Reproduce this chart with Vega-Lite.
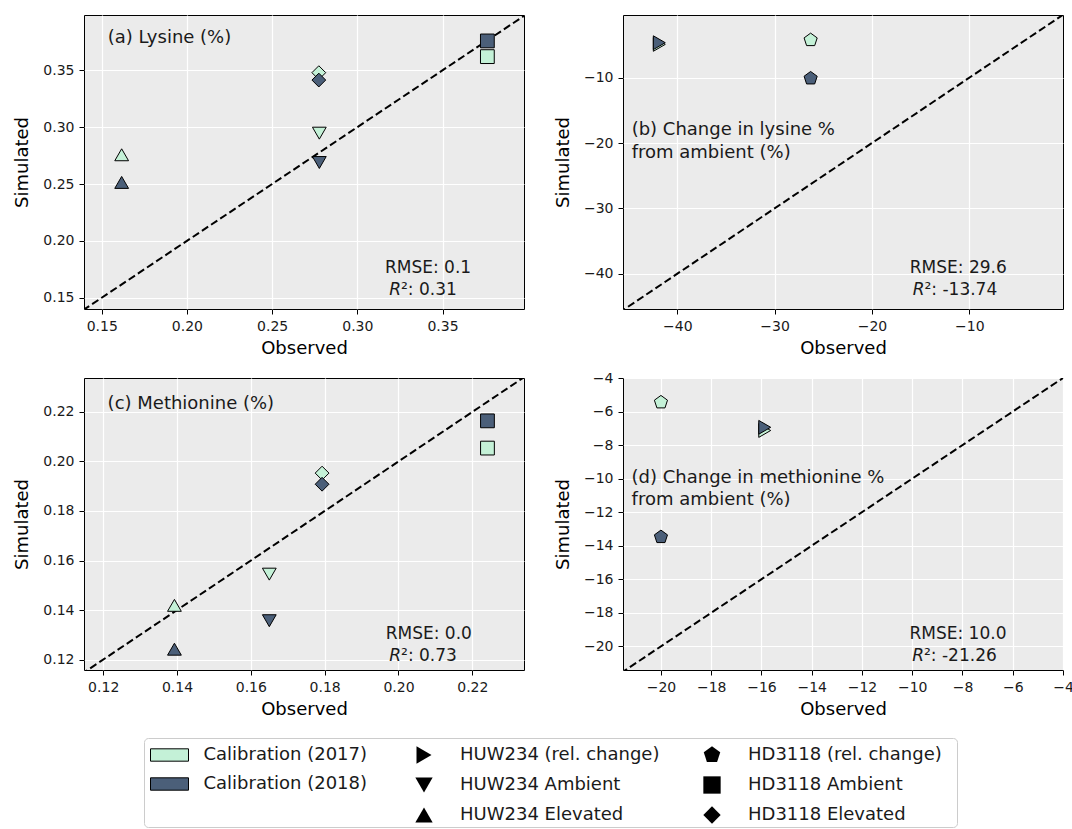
{
  "$schema": "https://vega.github.io/schema/vega-lite/v6.json",
  "padding": {"left": 13, "top": 14, "right": 0, "bottom": 0},
  "autosize": {"type": "pad"},
  "background": "white",
  "datasets": {
    "pts": [
      {"panel": "a", "year": "Calibration (2017)", "treat": "HUW234 Elevated", "obs": 0.1617, "sim": 0.2757},
      {"panel": "a", "year": "Calibration (2017)", "treat": "HUW234 Ambient", "obs": 0.2777, "sim": 0.2947},
      {"panel": "a", "year": "Calibration (2017)", "treat": "HD3118 Elevated", "obs": 0.2774, "sim": 0.3479},
      {"panel": "a", "year": "Calibration (2017)", "treat": "HD3118 Ambient", "obs": 0.3763, "sim": 0.3620},
      {"panel": "a", "year": "Calibration (2018)", "treat": "HUW234 Elevated", "obs": 0.1617, "sim": 0.2514},
      {"panel": "a", "year": "Calibration (2018)", "treat": "HUW234 Ambient", "obs": 0.2777, "sim": 0.2689},
      {"panel": "a", "year": "Calibration (2018)", "treat": "HD3118 Elevated", "obs": 0.2774, "sim": 0.3414},
      {"panel": "a", "year": "Calibration (2018)", "treat": "HD3118 Ambient", "obs": 0.3763, "sim": 0.3758},
      {"panel": "b", "year": "Calibration (2017)", "treat": "HUW234 (rel. change)", "obs": -41.85, "sim": -4.9},
      {"panel": "b", "year": "Calibration (2017)", "treat": "HD3118 (rel. change)", "obs": -26.3, "sim": -4.23},
      {"panel": "b", "year": "Calibration (2018)", "treat": "HUW234 (rel. change)", "obs": -41.85, "sim": -4.64},
      {"panel": "b", "year": "Calibration (2018)", "treat": "HD3118 (rel. change)", "obs": -26.3, "sim": -10.1},
      {"panel": "c", "year": "Calibration (2017)", "treat": "HUW234 Elevated", "obs": 0.1393, "sim": 0.1419},
      {"panel": "c", "year": "Calibration (2017)", "treat": "HUW234 Ambient", "obs": 0.1650, "sim": 0.1545},
      {"panel": "c", "year": "Calibration (2017)", "treat": "HD3118 Elevated", "obs": 0.1793, "sim": 0.1953},
      {"panel": "c", "year": "Calibration (2017)", "treat": "HD3118 Ambient", "obs": 0.2241, "sim": 0.2054},
      {"panel": "c", "year": "Calibration (2018)", "treat": "HUW234 Elevated", "obs": 0.1393, "sim": 0.1242},
      {"panel": "c", "year": "Calibration (2018)", "treat": "HUW234 Ambient", "obs": 0.1650, "sim": 0.1357},
      {"panel": "c", "year": "Calibration (2018)", "treat": "HD3118 Elevated", "obs": 0.1793, "sim": 0.1908},
      {"panel": "c", "year": "Calibration (2018)", "treat": "HD3118 Ambient", "obs": 0.2241, "sim": 0.2164},
      {"panel": "d", "year": "Calibration (2017)", "treat": "HUW234 (rel. change)", "obs": -15.87, "sim": -7.13},
      {"panel": "d", "year": "Calibration (2017)", "treat": "HD3118 (rel. change)", "obs": -20.0, "sim": -5.45},
      {"panel": "d", "year": "Calibration (2018)", "treat": "HUW234 (rel. change)", "obs": -15.87, "sim": -6.94},
      {"panel": "d", "year": "Calibration (2018)", "treat": "HD3118 (rel. change)", "obs": -20.0, "sim": -13.48}
    ]
  },
  "vconcat": [
    {
      "spacing": 12,
      "vconcat": [
        {
          "spacing": 99,
          "bounds": "flush",
          "hconcat": [
            {
              "width": 440, "height": 294,
              "layer": [
                {"data": {"values": [{}]}, "mark": {"type": "rule", "strokeDash": [7.5, 3.5], "strokeWidth": 2, "color": "black", "clip": true},
                 "encoding": {"x": {"datum": 0.139, "type": "quantitative"}, "y": {"datum": 0.139, "type": "quantitative"}, "x2": {"datum": 0.399}, "y2": {"datum": 0.399}}},
                {"data": {"name": "pts"}, "transform": [{"filter": "datum.panel === 'a'"}],
                 "mark": {"type": "point", "filled": true, "opacity": 1, "stroke": "black", "strokeWidth": 1, "size": 190},
                 "encoding": {
                   "x": {"field": "obs", "type": "quantitative", "scale": {"domain": [0.1396, 0.3978], "nice": false, "zero": false}, "axis": {"values": [0.15, 0.2, 0.25, 0.3, 0.35], "tickCount": 20, "format": ".2f", "title": "Observed"}},
                   "y": {"field": "sim", "type": "quantitative", "scale": {"domain": [0.1401, 0.3986], "nice": false, "zero": false}, "axis": {"values": [0.15, 0.2, 0.25, 0.3, 0.35], "tickCount": 20, "format": ".2f", "title": "Simulated"}},
                   "color": {"field": "year", "type": "nominal", "scale": {"domain": ["Calibration (2017)", "Calibration (2018)"], "range": ["#c4f1d7", "#4b5f79"]},
                     "legend": {"title": null, "orient": "none", "legendX": 75.5, "legendY": 730, "symbolType": "M-2,-0.65H2V0.65H-2Z", "symbolSize": 361, "symbolStrokeColor": "black", "symbolStrokeWidth": 1, "symbolOpacity": 1, "labelOffset": 24, "rowPadding": 10, "labelLimit": 400}},
                   "shape": {"field": "treat", "type": "nominal", "scale": {"domain": ["HUW234 (rel. change)", "HUW234 Ambient", "HUW234 Elevated", "HD3118 (rel. change)", "HD3118 Ambient", "HD3118 Elevated"], "range": ["triangle-right", "triangle-down", "triangle-up", "M0,-1L0.951,-0.309L0.588,0.809L-0.588,0.809L-0.951,-0.309Z", "square", "diamond"]},
                     "legend": {"title": null, "orient": "none", "legendX": 331, "legendY": 731, "columns": 2, "symbolSize": 300, "symbolFillColor": "black", "symbolStrokeColor": "black", "symbolStrokeWidth": 0, "symbolOpacity": 1, "labelOffset": 27, "columnPadding": 43, "rowPadding": 12, "labelLimit": 400,
                       "encode": {"symbols": {"update": {"fill": {"value": "black"}, "stroke": {"value": "black"}, "strokeWidth": {"value": 0}}}}}}
                 }},
                {"data": {"values": [{}]}, "mark": {"type": "text", "text": "(a) Lysine (%)", "align": "left", "baseline": "middle", "fontSize": 18, "color": "#1a1a1a"},
                 "encoding": {"x": {"datum": 0.1535, "type": "quantitative"}, "y": {"datum": 0.3781, "type": "quantitative"}}},
                {"data": {"values": [{}]}, "mark": {"type": "text", "text": "RMSE: 0.1", "align": "center", "baseline": "middle", "fontSize": 17, "color": "#1a1a1a"},
                 "encoding": {"x": {"datum": 0.3415, "type": "quantitative"}, "y": {"datum": 0.1759, "type": "quantitative"}}},
                {"data": {"values": [{}]}, "mark": {"type": "text", "text": "R", "align": "right", "baseline": "middle", "fontSize": 17, "fontStyle": "italic", "color": "#1a1a1a"},
                 "encoding": {"x": {"datum": 0.3256, "type": "quantitative"}, "y": {"datum": 0.1565, "type": "quantitative"}}},
                {"data": {"values": [{}]}, "mark": {"type": "text", "text": "²: 0.31", "align": "left", "baseline": "middle", "fontSize": 17, "color": "#1a1a1a"},
                 "encoding": {"x": {"datum": 0.3256, "type": "quantitative"}, "y": {"datum": 0.1565, "type": "quantitative"}}}
              ]
            },
            {
              "width": 440, "height": 294,
              "layer": [
                {"data": {"values": [{}]}, "mark": {"type": "rule", "strokeDash": [7.5, 3.5], "strokeWidth": 2, "color": "black", "clip": true},
                 "encoding": {"x": {"datum": -46, "type": "quantitative"}, "y": {"datum": -46, "type": "quantitative"}, "x2": {"datum": 0}, "y2": {"datum": 0}}},
                {"data": {"name": "pts"}, "transform": [{"filter": "datum.panel === 'b'"}],
                 "mark": {"type": "point", "filled": true, "opacity": 1, "stroke": "black", "strokeWidth": 1, "size": 190},
                 "encoding": {
                   "x": {"field": "obs", "type": "quantitative", "scale": {"domain": [-45.58, -0.37], "nice": false, "zero": false}, "axis": {"values": [-40, -30, -20, -10], "tickCount": 20, "format": "d", "title": "Observed"}},
                   "y": {"field": "sim", "type": "quantitative", "scale": {"domain": [-45.4, -0.4], "nice": false, "zero": false}, "axis": {"values": [-40, -30, -20, -10], "tickCount": 20, "format": "d", "title": "Simulated"}},
                   "color": {"field": "year", "type": "nominal", "scale": {"domain": ["Calibration (2017)", "Calibration (2018)"], "range": ["#c4f1d7", "#4b5f79"]}},
                   "shape": {"field": "treat", "type": "nominal", "scale": {"domain": ["HUW234 (rel. change)", "HUW234 Ambient", "HUW234 Elevated", "HD3118 (rel. change)", "HD3118 Ambient", "HD3118 Elevated"], "range": ["triangle-right", "triangle-down", "triangle-up", "M0,-1L0.951,-0.309L0.588,0.809L-0.588,0.809L-0.951,-0.309Z", "square", "diamond"]}}
                 }},
                {"data": {"values": [{}]}, "mark": {"type": "text", "text": ["(b) Change in lysine %", "from ambient (%)"], "lineHeight": 22.4, "align": "left", "baseline": "middle", "fontSize": 18, "color": "#1a1a1a"},
                 "encoding": {"x": {"datum": -44.69, "type": "quantitative"}, "y": {"datum": -18.05, "type": "quantitative"}}},
                {"data": {"values": [{}]}, "mark": {"type": "text", "text": "RMSE: 29.6", "align": "center", "baseline": "middle", "fontSize": 17, "color": "#1a1a1a"},
                 "encoding": {"x": {"datum": -11.13, "type": "quantitative"}, "y": {"datum": -39.17, "type": "quantitative"}}},
                {"data": {"values": [{}]}, "mark": {"type": "text", "text": "R", "align": "right", "baseline": "middle", "fontSize": 17, "fontStyle": "italic", "color": "#1a1a1a"},
                 "encoding": {"x": {"datum": -14.6, "type": "quantitative"}, "y": {"datum": -42.54, "type": "quantitative"}}},
                {"data": {"values": [{}]}, "mark": {"type": "text", "text": "²: -13.74", "align": "left", "baseline": "middle", "fontSize": 17, "color": "#1a1a1a"},
                 "encoding": {"x": {"datum": -14.6, "type": "quantitative"}, "y": {"datum": -42.54, "type": "quantitative"}}}
              ]
            }
          ]
        },
        {
          "spacing": 99,
          "bounds": "flush",
          "hconcat": [
            {
              "width": 440, "height": 292,
              "layer": [
                {"data": {"values": [{}]}, "mark": {"type": "rule", "strokeDash": [7.5, 3.5], "strokeWidth": 2, "color": "black", "clip": true},
                 "encoding": {"x": {"datum": 0.114, "type": "quantitative"}, "y": {"datum": 0.114, "type": "quantitative"}, "x2": {"datum": 0.2345}, "y2": {"datum": 0.2345}}},
                {"data": {"name": "pts"}, "transform": [{"filter": "datum.panel === 'c'"}],
                 "mark": {"type": "point", "filled": true, "opacity": 1, "stroke": "black", "strokeWidth": 1, "size": 190},
                 "encoding": {
                   "x": {"field": "obs", "type": "quantitative", "scale": {"domain": [0.1148, 0.234], "nice": false, "zero": false}, "axis": {"values": [0.12, 0.14, 0.16, 0.18, 0.2, 0.22], "tickCount": 20, "format": ".2f", "title": "Observed"}},
                   "y": {"field": "sim", "type": "quantitative", "scale": {"domain": [0.1158, 0.2337], "nice": false, "zero": false}, "axis": {"values": [0.12, 0.14, 0.16, 0.18, 0.2, 0.22], "tickCount": 20, "format": ".2f", "title": "Simulated"}},
                   "color": {"field": "year", "type": "nominal", "scale": {"domain": ["Calibration (2017)", "Calibration (2018)"], "range": ["#c4f1d7", "#4b5f79"]}},
                   "shape": {"field": "treat", "type": "nominal", "scale": {"domain": ["HUW234 (rel. change)", "HUW234 Ambient", "HUW234 Elevated", "HD3118 (rel. change)", "HD3118 Ambient", "HD3118 Elevated"], "range": ["triangle-right", "triangle-down", "triangle-up", "M0,-1L0.951,-0.309L0.588,0.809L-0.588,0.809L-0.951,-0.309Z", "square", "diamond"]}}
                 }},
                {"data": {"values": [{}]}, "mark": {"type": "text", "text": "(c) Methionine (%)", "align": "left", "baseline": "middle", "fontSize": 18, "color": "#1a1a1a"},
                 "encoding": {"x": {"datum": 0.1212, "type": "quantitative"}, "y": {"datum": 0.2234, "type": "quantitative"}}},
                {"data": {"values": [{}]}, "mark": {"type": "text", "text": "RMSE: 0.0", "align": "center", "baseline": "middle", "fontSize": 17, "color": "#1a1a1a"},
                 "encoding": {"x": {"datum": 0.2082, "type": "quantitative"}, "y": {"datum": 0.1304, "type": "quantitative"}}},
                {"data": {"values": [{}]}, "mark": {"type": "text", "text": "R", "align": "right", "baseline": "middle", "fontSize": 17, "fontStyle": "italic", "color": "#1a1a1a"},
                 "encoding": {"x": {"datum": 0.2007, "type": "quantitative"}, "y": {"datum": 0.1216, "type": "quantitative"}}},
                {"data": {"values": [{}]}, "mark": {"type": "text", "text": "²: 0.73", "align": "left", "baseline": "middle", "fontSize": 17, "color": "#1a1a1a"},
                 "encoding": {"x": {"datum": 0.2007, "type": "quantitative"}, "y": {"datum": 0.1216, "type": "quantitative"}}}
              ]
            },
            {
              "width": 440, "height": 292,
              "layer": [
                {"data": {"values": [{}]}, "mark": {"type": "rule", "strokeDash": [7.5, 3.5], "strokeWidth": 2, "color": "black", "clip": true},
                 "encoding": {"x": {"datum": -21.6, "type": "quantitative"}, "y": {"datum": -21.6, "type": "quantitative"}, "x2": {"datum": -3.9}, "y2": {"datum": -3.9}}},
                {"data": {"name": "pts"}, "transform": [{"filter": "datum.panel === 'd'"}],
                 "mark": {"type": "point", "filled": true, "opacity": 1, "stroke": "black", "strokeWidth": 1, "size": 190},
                 "encoding": {
                   "x": {"field": "obs", "type": "quantitative", "scale": {"domain": [-21.51, -4], "nice": false, "zero": false}, "axis": {"values": [-20, -18, -16, -14, -12, -10, -8, -6, -4], "tickCount": 20, "format": "d", "title": "Observed"}},
                   "y": {"field": "sim", "type": "quantitative", "scale": {"domain": [-21.41, -4], "nice": false, "zero": false}, "axis": {"values": [-20, -18, -16, -14, -12, -10, -8, -6, -4], "tickCount": 20, "format": "d", "title": "Simulated"}},
                   "color": {"field": "year", "type": "nominal", "scale": {"domain": ["Calibration (2017)", "Calibration (2018)"], "range": ["#c4f1d7", "#4b5f79"]}},
                   "shape": {"field": "treat", "type": "nominal", "scale": {"domain": ["HUW234 (rel. change)", "HUW234 Ambient", "HUW234 Elevated", "HD3118 (rel. change)", "HD3118 Ambient", "HD3118 Elevated"], "range": ["triangle-right", "triangle-down", "triangle-up", "M0,-1L0.951,-0.309L0.588,0.809L-0.588,0.809L-0.951,-0.309Z", "square", "diamond"]}}
                 }},
                {"data": {"values": [{}]}, "mark": {"type": "text", "text": ["(d) Change in methionine %", "from ambient (%)"], "lineHeight": 22.4, "align": "left", "baseline": "middle", "fontSize": 18, "color": "#1a1a1a"},
                 "encoding": {"x": {"datum": -21.17, "type": "quantitative"}, "y": {"datum": -9.96, "type": "quantitative"}}},
                {"data": {"values": [{}]}, "mark": {"type": "text", "text": "RMSE: 10.0", "align": "center", "baseline": "middle", "fontSize": 17, "color": "#1a1a1a"},
                 "encoding": {"x": {"datum": -8.18, "type": "quantitative"}, "y": {"datum": -19.26, "type": "quantitative"}}},
                {"data": {"values": [{}]}, "mark": {"type": "text", "text": "R", "align": "right", "baseline": "middle", "fontSize": 17, "fontStyle": "italic", "color": "#1a1a1a"},
                 "encoding": {"x": {"datum": -9.53, "type": "quantitative"}, "y": {"datum": -20.55, "type": "quantitative"}}},
                {"data": {"values": [{}]}, "mark": {"type": "text", "text": "²: -21.26", "align": "left", "baseline": "middle", "fontSize": 17, "color": "#1a1a1a"},
                 "encoding": {"x": {"datum": -9.53, "type": "quantitative"}, "y": {"datum": -20.55, "type": "quantitative"}}}
              ]
            }
          ]
        }
      ]
    },
    {
      "spacing": 20,
      "hconcat": [
        {"width": 39, "height": 89, "data": {"values": []}, "mark": "point", "encoding": {}, "view": {"fill": null, "stroke": null}},
        {"width": 813, "height": 89, "data": {"values": []}, "mark": "point", "encoding": {}, "view": {"fill": "white", "stroke": "#cccccc", "strokeWidth": 1, "cornerRadius": 4}}
      ]
    }
  ],
  "spacing": 18,
  "config": {
    "font": "DejaVu Sans",
    "view": {"fill": "#ebebeb", "stroke": "black", "strokeWidth": 1},
    "axis": {"domain": false, "grid": true, "gridColor": "white", "gridWidth": 1.2, "gridOpacity": 1, "tickColor": "black", "tickSize": 5, "tickWidth": 1, "labelFontSize": 14, "labelColor": "#1a1a1a", "labelPadding": 5, "titleFontSize": 18, "titleFontWeight": "normal", "titleColor": "black", "titlePadding": 6, "labelFlush": false, "labelOverlap": false},
    "axisY": {"titlePadding": 11},
    "legend": {"labelFontSize": 18, "labelColor": "#1a1a1a", "labelFont": "DejaVu Sans", "padding": 0}
  }
}
